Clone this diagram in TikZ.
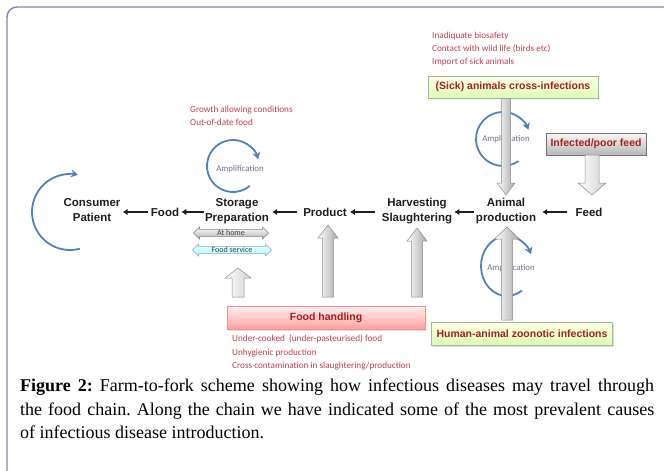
\documentclass[tikz,border=0pt]{standalone}
\usepackage{fontspec}
\setmainfont{Liberation Serif}
\newfontfamily\arialf{Liberation Sans}
\newfontfamily\calibf{Carlito}
\usetikzlibrary{shapes.arrows,shadows,arrows.meta,calc}
\definecolor{frameC}{HTML}{8583B3}
\definecolor{noteC}{HTML}{C23F4E}
\definecolor{boxtextC}{HTML}{A5201E}
\definecolor{ampC}{HTML}{4F81BD}
\definecolor{amptextC}{HTML}{6B7393}
\definecolor{labelC}{HTML}{1E1E1E}
\tikzset{
 frameline/.style={draw=frameC, line width=1.4pt},
 chainlbl/.style={font=\arialf\bfseries\fontsize{11.5}{14.5}\selectfont, text=labelC, align=center, inner sep=1pt},
 chainarrow/.style={draw=labelC, line width=1.5pt, -{Latex[length=5pt,width=6.5pt]}},
 note/.style={font=\calibf\fontsize{9.2}{13.2}\selectfont, text=noteC, align=left, anchor=north west, inner sep=0pt},
 boxbase/.style={font=\arialf\bfseries\fontsize{10.5}{12}\selectfont, text=boxtextC, inner sep=0pt,
   drop shadow={opacity=0.25, shadow xshift=1pt, shadow yshift=-1pt}},
 greenbox/.style={boxbase, draw=green!35!black!40, top color=green!4!yellow!10, bottom color=green!45!yellow!30, line width=0.5pt},
 pinkbox/.style={boxbase, draw=red!45, top color=red!6, bottom color=red!38, line width=0.5pt},
 graybox/.style={boxbase, draw=black!55, top color=black!3, bottom color=black!28, line width=0.7pt},
 ampcirc/.style={draw=ampC, line width=1.8pt, -{Stealth[length=7pt,width=8pt]}},
 amptext/.style={font=\calibf\fontsize{8.8}{9}\selectfont, text=amptextC, inner sep=0pt},
 garr/.style={draw=black!45, line width=0.5pt, left color=white, right color=black!35},
 garrlight/.style={draw=black!45, line width=0.5pt, left color=white, right color=black!18},
 dblbase/.style={double arrow, double arrow head extend=2.5pt, minimum width=12pt, inner sep=0pt,
   font=\calibf\fontsize{8}{8}\selectfont, text=black!75, line width=0.5pt},
 homearrow/.style={dblbase, draw=black!50, top color=white, bottom color=black!30},
 servicearrow/.style={dblbase, draw=cyan!50!blue!50, top color=cyan!6, bottom color=cyan!35},
}
\newcommand\blockarr[6]{%
  \path[#6] let \p1=(#1), \p2=(#2), \n1={sign(\y2-\y1)} in
   ({\x1-#3},{\y1}) -- ({\x1-#3},{\y2-\n1*#5}) -- ({\x1-#4},{\y2-\n1*#5}) -- ({\x1},{\y2})
   -- ({\x1+#4},{\y2-\n1*#5}) -- ({\x1+#3},{\y2-\n1*#5}) -- ({\x1+#3},{\y1}) -- cycle;}
\begin{document}
\begin{tikzpicture}[x=1pt,y=-1pt]
\useasboundingbox (0,0) rectangle (664,471);
% frame
\draw[frameline, rounded corners=10pt] (7,471) -- (7,7) -- (664,7);

% notes
\node[note] (notetop) at (432,32) {Inadiquate biosafety\\Contact with wild life (birds etc)\\Import of sick animals};
\node[note] (notegrowth) at (190,106) {Growth allowing conditions\\Out-of-date food};
\node[note] (notehandling) at (232,335) {Under-cooked\ \ (under-pasteurised)\ food\\Unhygienic production\\Cross contamination in slaughtering/production};

% boxes
\node[greenbox, minimum width=170pt, minimum height=22pt] (sick) at (513,87) {(Sick) animals cross-infections};
\node[graybox, minimum width=100pt, minimum height=22pt] (poorfeed) at (596,144) {Infected/poor feed};
\node[pinkbox, minimum width=198pt, minimum height=23pt] (handling) at (326,318) {Food handling};
\node[greenbox, minimum width=181pt, minimum height=23pt] (zoonotic) at (522,334) {Human-animal zoonotic infections};

% chain labels
\node[chainlbl] (consumer) at (92,210) {Consumer\\Patient};
\node[chainlbl] (food) at (165,212) {Food};
\node[chainlbl] (storage) at (237,211) {Storage\\Preparation};
\node[chainlbl] (product) at (325,212) {Product};
\node[chainlbl] (harvest) at (417,211) {Harvesting\\Slaughtering};
\node[chainlbl] (animal) at (506,211) {Animal\\production};
\node[chainlbl] (feed) at (589,212) {Feed};

% chain arrows
\draw[chainarrow, shorten <=2pt, shorten >=1pt] (food.west) -- (food.west -| consumer.east);
\draw[chainarrow, shorten <=0pt, shorten >=1pt] (storage.west |- food.east) -- (food.east);
\draw[chainarrow, shorten <=5pt, shorten >=2pt] (product.west) -- (product.west -| storage.east);
\draw[chainarrow, shorten <=6pt, shorten >=2pt] (harvest.west |- product.east) -- (product.east);
\draw[chainarrow, shorten <=1pt, shorten >=1pt] (animal.west |- product.east) -- (product.east -| harvest.east);
\draw[chainarrow, shorten <=7pt, shorten >=5pt] (feed.west) -- (feed.west -| animal.east);

% amplification circles
\draw[ampcirc] (70,212) ++(75:38) arc[start angle=75, end angle=282, radius=38];
\node[amptext] (amp1) at (240,169) {Amplification};
\draw[ampcirc] (233,166) ++(50:26) arc[start angle=50, end angle=345, radius=26];
\node[amptext] (amp2) at (506,139) {Amplification};
\draw[ampcirc] (503,139) ++(55:27) arc[start angle=55, end angle=340, radius=27];
\node[amptext] (amp3) at (511,268) {Amplification};
\draw[ampcirc] (507,266) ++(55:26 and 30) arc[start angle=55, end angle=337, x radius=26, y radius=30];

% double arrows
\node[homearrow, minimum height=75pt] (athome) at (231,233) {At home};
\node[servicearrow, minimum height=79pt] (foodservice) at (232,250) {Food service};

% block arrows
\coordinate (a1t) at (sick.south -| animal.north);
\coordinate (a1h) at (506,195);
\blockarr{a1t}{a1h}{4.5pt}{9pt}{12pt}{garr}
\coordinate (a2t) at (592,155);
\coordinate (a2h) at (592,195);
\blockarr{a2t}{a2h}{7pt}{14pt}{12pt}{garrlight}
\coordinate (a3t) at (328,297);
\coordinate (a3h) at (328,225);
\blockarr{a3t}{a3h}{5.5pt}{10pt}{13pt}{garr}
\coordinate (a4t) at (417,297);
\coordinate (a4h) at (417,228);
\blockarr{a4t}{a4h}{5.5pt}{10pt}{13pt}{garr}
\coordinate (a5t) at (507,320);
\coordinate (a5h) at (507,227);
\blockarr{a5t}{a5h}{5.5pt}{12.5pt}{12pt}{garr}
\coordinate (a6t) at (238,297);
\coordinate (a6h) at (238,268);
\blockarr{a6t}{a6h}{6pt}{13pt}{10pt}{garrlight}

% caption
\node[anchor=north west, inner sep=0pt, align=left, font=\fontsize{18}{23.5}\selectfont\frenchspacing] (caption) at (20,379)
 {\makebox[634pt][s]{\textbf{Figure 2:} Farm-to-fork scheme showing how infectious diseases may travel through}\\
  \makebox[634pt][s]{the food chain. Along the chain we have indicated some of the most prevalent causes}\\
  of infectious disease introduction.};
\end{tikzpicture}
\end{document}
